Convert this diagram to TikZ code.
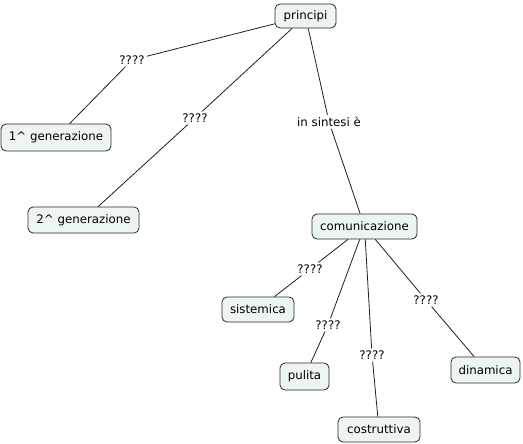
\documentclass[tikz,border=0pt]{standalone}
\usepackage{fontspec}
\setmainfont{DejaVu Sans}
\definecolor{nodefill}{RGB}{238,244,244}
\definecolor{nodeline}{RGB}{40,40,40}
\definecolor{linkline}{RGB}{30,30,30}
\begin{document}
\begin{tikzpicture}[x=1pt,y=-1pt,
  concept/.style={draw=nodeline,fill=nodefill,rounded corners=5pt,line width=0.8pt,
    inner sep=0pt,font=\fontsize{11.8}{14}\selectfont},
  linklabel/.style={inner sep=2pt,font=\fontsize{11.8}{14}\selectfont},
  link/.style={draw=linkline,line width=0.8pt}]
\useasboundingbox (0,0) rectangle (523,444);
% concepts
\node[concept,minimum width=61pt,minimum height=24pt] (principi) at (305.5,16) {principi};
\node[concept,minimum width=110pt,minimum height=27pt] (gen1) at (56,137.5) {1\^{} generazione};
\node[concept,minimum width=111pt,minimum height=26pt] (gen2) at (83.5,220) {2\^{} generazione};
\node[concept,minimum width=105pt,minimum height=25pt] (comu) at (364.5,226.5) {comunicazione};
\node[concept,minimum width=72pt,minimum height=25pt] (sist) at (258,309.5) {sistemica};
\node[concept,minimum width=49pt,minimum height=27pt] (pulita) at (304.5,376.5) {pulita};
\node[concept,minimum width=82pt,minimum height=25pt] (costr) at (379,429.5) {costruttiva};
\node[concept,minimum width=69pt,minimum height=26pt] (dina) at (485.5,370) {dinamica};
% link labels
\node[linklabel] (l1) at (132,60) {????};
\node[linklabel] (l2) at (195,118) {????};
\node[linklabel] (l3) at (329,122) {in sintesi è};
\node[linklabel] (l4) at (310,269) {????};
\node[linklabel] (l5) at (328,325) {????};
\node[linklabel] (l6) at (372,355) {????};
\node[linklabel] (l7) at (426,300) {????};
% connectors
\draw[link] (principi) -- (l1) -- (gen1);
\draw[link] (principi) -- (l2) -- (gen2);
\draw[link] (principi) -- (l3) -- (comu);
\draw[link] (comu) -- (l4) -- (sist);
\draw[link] (comu) -- (l5) -- (pulita);
\draw[link] (comu) -- (l6) -- (costr);
\draw[link] (comu) -- (l7) -- (dina);
\end{tikzpicture}
\end{document}
